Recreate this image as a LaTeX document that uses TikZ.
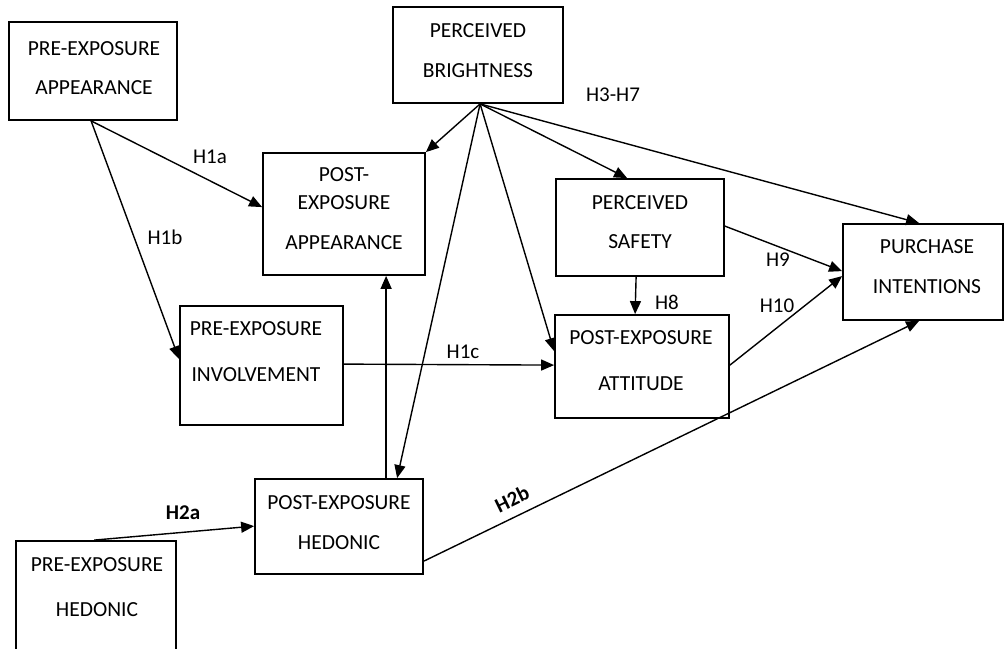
\documentclass[tikz,border=0pt]{standalone}
\usepackage{fontspec}
\setmainfont{Carlito}
\usetikzlibrary{arrows.meta}
\begin{document}
\begin{tikzpicture}[x=1pt,y=-1pt,
  box/.style={draw,line width=1.8pt,rectangle,inner sep=0pt},
  txt/.style={inner sep=0pt,font=\fontsize{21.5}{24}\selectfont},
  hyp/.style={inner sep=0pt,font=\fontsize{21}{24}\selectfont},
  hypb/.style={inner sep=0pt,font=\fontsize{21}{24}\selectfont\bfseries},
  link/.style={line width=1.4pt},
  arr/.style={link,-{Triangle[length=13pt,width=11pt]}}]
\clip (0,0) rectangle (1006,648);

% boxes
\node[box,minimum width=168pt,minimum height=98pt] (A) at (93,71) {};
\node[box,minimum width=170pt,minimum height=96pt] (B) at (478,55) {};
\node[box,minimum width=162pt,minimum height=122pt] (C) at (344,214) {};
\node[box,minimum width=168pt,minimum height=97pt] (D) at (640,227.5) {};
\node[box,minimum width=160pt,minimum height=96pt] (E) at (923,272) {};
\node[box,minimum width=163pt,minimum height=119pt] (F) at (261.5,365.5) {};
\node[box,minimum width=174pt,minimum height=103pt] (G) at (642,366.5) {};
\node[box,minimum width=168pt,minimum height=95pt] (H) at (339,526.5) {};
\node[box,minimum width=160pt,minimum height=119pt] (I) at (96,600.5) {};

% box texts
\node[txt] (A1) at (94,49) {PRE-EXPOSURE};
\node[txt] (A2) at (94,88) {APPEARANCE};
\node[txt] (B1) at (478,31) {PERCEIVED};
\node[txt] (B2) at (478,71) {BRIGHTNESS};
\node[txt] (C1) at (344,175) {POST-};
\node[txt] (C2) at (344,203) {EXPOSURE};
\node[txt] (C3) at (344,243) {APPEARANCE};
\node[txt] (D1) at (640,203) {PERCEIVED};
\node[txt] (D2) at (640,242) {SAFETY};
\node[txt] (E1) at (927,247) {PURCHASE};
\node[txt] (E2) at (927,287) {INTENTIONS};
\node[txt] (F1) at (256,329) {PRE-EXPOSURE};
\node[txt] (F2) at (256,375) {INVOLVEMENT};
\node[txt] (G1) at (641,338) {POST-EXPOSURE};
\node[txt] (G2) at (641,384) {ATTITUDE};
\node[txt] (H1) at (339,503) {POST-EXPOSURE};
\node[txt] (H2) at (339,543) {HEDONIC};
\node[txt] (I1) at (97,565) {PRE-EXPOSURE};
\node[txt] (I2) at (97,610) {HEDONIC};

% connectors
\coordinate (Ao) at ([xshift=83pt]A.south west);
\coordinate (Bo) at ([xshift=88pt]B.south west);
\draw[arr] (Ao) -- ([yshift=-55pt]C.north west);
\draw[arr] (Ao) -- ([yshift=-54pt]F.north west);
\draw[arr] ([yshift=-59pt]F.north east) -- ([yshift=-51pt]G.north west);
\draw[arr] (Bo) -- (C.north east);
\draw[arr] (Bo) -- ([xshift=143pt]H.north west);
\draw[arr] (Bo) -- ([yshift=-37pt]G.north west);
\draw[arr] (Bo) -- ([xshift=72pt]D.north west);
\draw[arr] (Bo) -- ([xshift=77pt]E.north west);
\draw[arr] ([xshift=81pt]D.south west) -- ([xshift=81pt]G.north west);
\draw[arr] ([yshift=-48pt]D.north east) -- ([yshift=-48pt]E.north west);
\draw[arr] ([yshift=-51pt]G.north east) -- ([yshift=-53pt]E.north west);
\draw[arr] ([xshift=132pt]H.north west) -- ([xshift=124pt]C.south west);
\draw[arr] ([xshift=79pt]I.north west) -- ([yshift=-48pt]H.north west);
\draw[arr] ([yshift=-83pt]H.north east) -- ([xshift=77pt]E.south west);

% hypothesis labels
\node[hyp] (h1a) at (210,157) {H1a};
\node[hyp] (h1b) at (165,237) {H1b};
\node[hyp] (h1c) at (463,352) {H1c};
\node[hyp] (h37) at (613,95) {H3-H7};
\node[hyp] (h8) at (667,302) {H8};
\node[hyp] (h9) at (778,260) {H9};
\node[hyp] (h10) at (777,306) {H10};
\node[hypb] (h2a) at (183,513) {H2a};
\node[hypb,rotate=26] (h2b) at (512,499) {H2b};
\end{tikzpicture}
\end{document}
